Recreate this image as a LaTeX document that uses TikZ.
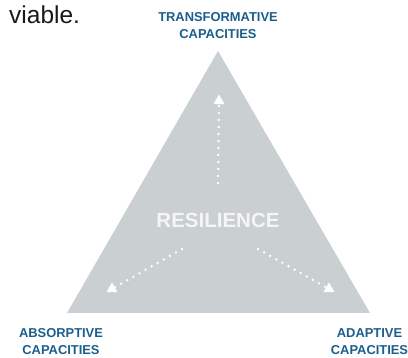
\documentclass[tikz,border=0pt]{standalone}
\usepackage{fontspec}
\setmainfont{Liberation Sans}
\usepackage{tikz}
\usetikzlibrary{shapes.geometric}
\definecolor{trigray}{HTML}{CACFD2}
\definecolor{capblue}{HTML}{1B5E8C}
\definecolor{reswhite}{HTML}{F4F5F6}
\tikzstyle{caplabel} = [text=capblue, font=\bfseries\fontsize{12.9}{17}\selectfont, align=center, inner sep=0pt]
\tikzstyle{tip} = [regular polygon, regular polygon sides=3, fill=white, inner sep=0pt, minimum size=13pt]
\tikzstyle{dots} = [white, line width=2.7pt, line cap=round, dash pattern=on 0pt off 7pt]

\begin{document}
\begin{tikzpicture}[x=1pt, y=-1pt]
        \clip (0,0) rectangle (408,358);
        
        \node (viable) [anchor=base west, inner sep=0pt, font=\fontsize{24.5}{28}\selectfont, text=black!90] at (9,24) {viable.};
        
        \fill[trigray] (218,51) -- (370,313) -- (67,313) -- cycle;
        
        \node (trans) [caplabel] at (218,25.5) {TRANSFORMATIVE\\CAPACITIES};
        \node (absorp) [caplabel] at (61,342) {ABSORPTIVE\\CAPACITIES};
        \node (adapt) [caplabel] at (369.5,342) {ADAPTIVE\\CAPACITIES};
        
        \node (res) [text=reswhite, font=\bfseries\fontsize{20.5}{24}\selectfont] at (218,220) {RESILIENCE};
        
        \coordinate (topstart) at (218,183);
        \coordinate (leftstart) at (182,249);
        \coordinate (rightstart) at (258,249);
        
        \node (toptip) [tip] at (219,101) {};
        \node (lefttip) [tip] at (112,289) {};
        \node (righttip) [tip] at (329,289) {};
        
        \draw[dots] (topstart) -- (toptip);
        \draw[dots] (leftstart) -- (lefttip);
        \draw[dots] (rightstart) -- (righttip);
        
    \end{tikzpicture}
\end{document}
